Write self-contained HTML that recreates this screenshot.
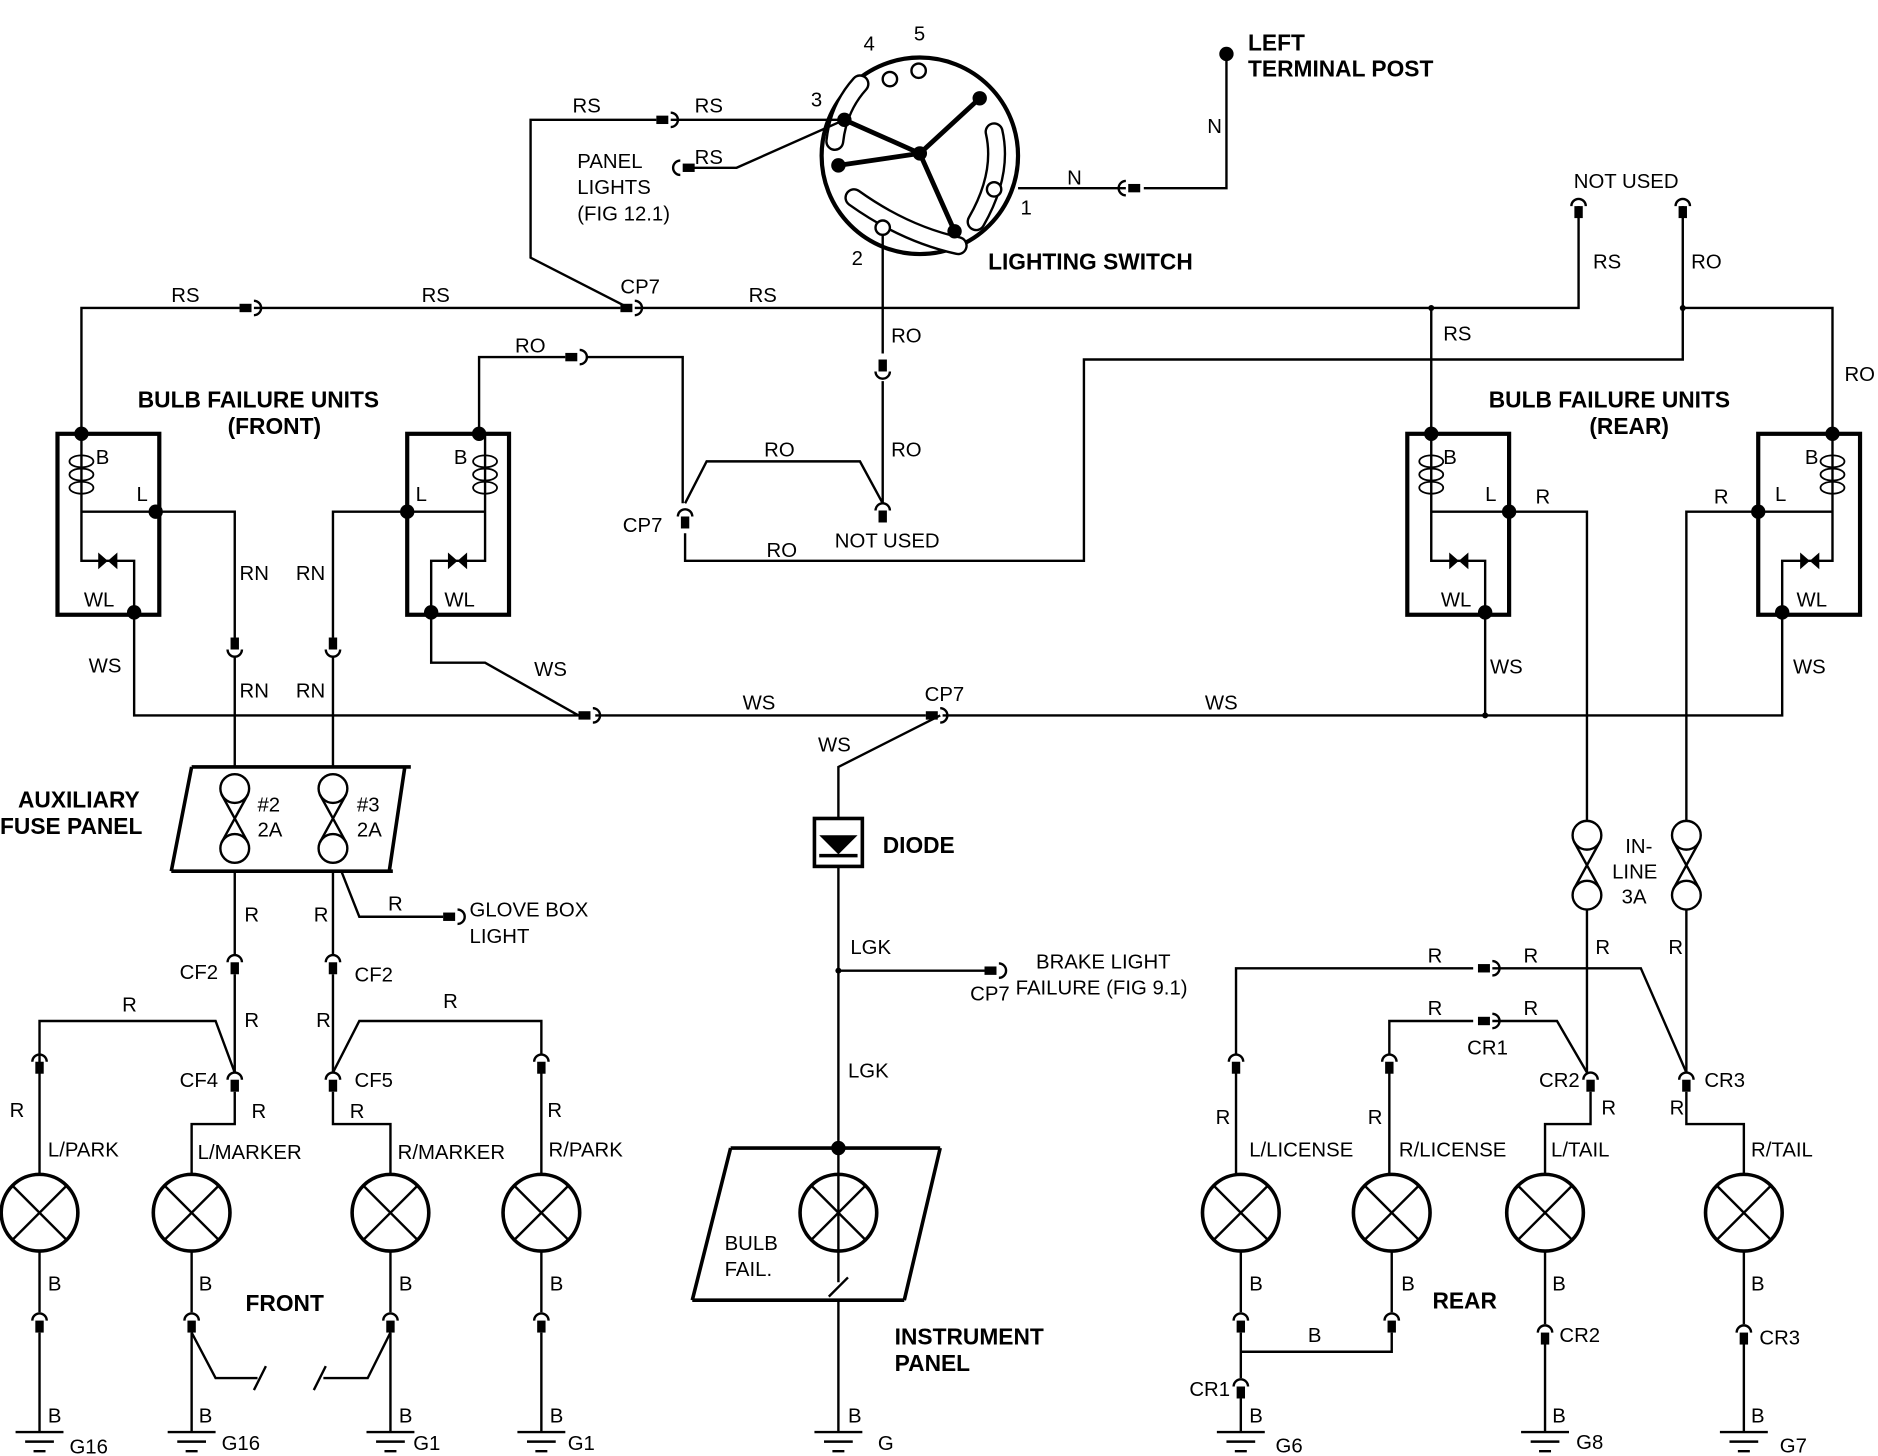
<!DOCTYPE html>
<html><head><meta charset="utf-8"><style>
html,body{margin:0;padding:0;background:#fff;}
svg{display:block;}
text{font-family:"Liberation Sans",sans-serif;font-size:17px;fill:#000;}
.b{font-weight:bold;font-size:19px;}
</style></head><body>
<svg width="1878" height="1456" viewBox="0 0 1568 1215" preserveAspectRatio="none" xmlns="http://www.w3.org/2000/svg">
<defs>
<g id="cv"><path d="M-6,6 A6,6 0 0 1 6,6" fill="none" stroke="#000" stroke-width="2"/><rect x="-3.5" y="6" width="7" height="10" fill="#000"/></g>
<g id="ch"><rect x="-12" y="-3.5" width="10" height="7" fill="#000"/><path d="M0,-6 A6,6 0 0 1 0,6" fill="none" stroke="#000" stroke-width="2"/></g>
<g id="chl"><path d="M0,-6 A6,6 0 0 0 0,6" fill="none" stroke="#000" stroke-width="2"/><rect x="2" y="-3.5" width="10" height="7" fill="#000"/></g>
<g id="lamp"><circle r="32" fill="none" stroke="#000" stroke-width="3"/><path d="M-22,-22L22,22M22,-22L-22,22" stroke="#000" stroke-width="2"/></g>
<g id="gnd"><path d="M-20,0H20M-12,8H12M-5,16H5" stroke="#000" stroke-width="2"/></g>
<g id="fuse"><circle cy="-25" r="12" fill="none" stroke="#000" stroke-width="2"/><circle cy="25" r="12" fill="none" stroke="#000" stroke-width="2"/><path d="M-11,-20L11,20M11,-20L-11,20" stroke="#000" stroke-width="2"/></g>
<g id="dot"><circle r="6" fill="#000"/></g>
</defs>
<g fill="none" stroke="#000" stroke-width="2">
<!-- switch -->
<circle cx="768" cy="130" r="82" stroke-width="3.5"/>
<g stroke-linecap="round">
<path d="M718,70 Q700,90 697,118" stroke-width="16"/>
<path d="M713,165 Q755,195 800,205" stroke-width="16"/>
<path d="M830,110 Q838,145 815,185" stroke-width="16"/>
<path d="M718,70 Q700,90 697,118" stroke="#fff" stroke-width="12"/>
<path d="M713,165 Q755,195 800,205" stroke="#fff" stroke-width="12"/>
<path d="M830,110 Q838,145 815,185" stroke="#fff" stroke-width="12"/>
</g>
<path d="M705,100L768,128L818,82M700,138L768,128L797,193" stroke-width="4"/>
<circle cx="743" cy="66" r="6"/><circle cx="767" cy="59" r="6"/><circle cx="830" cy="158" r="6" fill="#fff"/><circle cx="737" cy="190" r="6" fill="#fff"/>
<!-- N -->
<path d="M1024,45V157H955M940,157H850"/>
<!-- RS top -->
<path d="M705,100H560M548,100H443V215L525,257"/>
<path d="M573,140H615L705,100"/>
<path d="M68,362V257H200M212,257H518M530,257H1318V172"/>
<path d="M1195,257V362"/>
<!-- RO -->
<path d="M737,196V295M737,318V420"/>
<path d="M737,420L718,385H590L572,420"/>
<path d="M572,445V468H905V300H1405V172M1405,257H1530V362"/>
<path d="M400,362V298H472M490,298H570V420"/>
<!-- front units -->
<rect x="48" y="362" width="85" height="151" stroke-width="3.5"/>
<rect x="340" y="362" width="85" height="151" stroke-width="3.5"/>
<path d="M68,362V468H112V511M68,427H130"/>
<path d="M405,362V468H360V511M405,427H340"/>
<path d="M130,427H196V532M196,548V640"/>
<path d="M340,427H278V532M278,548V640"/>
<path d="M112,511V597H483M360,511V553H405L483,597M497,597H773M787,597H1488V511M1240,511V597"/>
<!-- rear units -->
<rect x="1175" y="362" width="85" height="151" stroke-width="3.5"/>
<rect x="1468" y="362" width="85" height="151" stroke-width="3.5"/>
<path d="M1195,362V468H1240V511M1195,427H1260"/>
<path d="M1530,362V468H1488V511M1530,427H1468"/>
<path d="M1260,427H1325V685M1325,759V895"/>
<path d="M1468,427H1408V685M1408,759V895"/>
<!-- diode -->
<path d="M785,597L700,640V683M700,722V1070M700,810H822"/>
<rect x="680" y="683" width="40" height="40" stroke-width="3"/>
<path d="M684,714H716" stroke-width="3"/>
<!-- instrument panel -->
<path d="M610,958H785M578,1085H755M610,958L578,1085M785,958L755,1085" stroke-width="3"/>
<path d="M692,1082L708,1066M700,1085V1195"/>
<!-- aux fuse panel -->
<path d="M160,640H343M143,727H328M160,640L143,727M338,640L325,727" stroke-width="3"/>
<path d="M196,727V797M196,813V895M278,727V797M278,813V895"/>
<path d="M285,727L300,765H370"/>
<!-- front lamps wiring -->
<path d="M33,887V852H180L196,895"/>
<path d="M196,911V938H160V980"/>
<path d="M278,911V938H326V980"/>
<path d="M278,895L300,852H452V880"/>
<path d="M33,895V980M452,895V980"/>
<path d="M33,1044V1095M33,1112V1195M160,1044V1095M160,1112V1195M326,1044V1095M326,1112V1195M452,1044V1095M452,1112V1195"/>
<path d="M160,1112L180,1150H215M212,1160L222,1140M262,1160L272,1140M270,1150H307L326,1112"/>
<!-- rear lamps wiring -->
<path d="M1032,880V808H1230M1246,808H1370L1408,895"/>
<path d="M1160,880V852H1230M1246,852H1300L1325,895"/>
<path d="M1032,895V980M1160,895V980"/>
<path d="M1328,911V938H1290V980M1408,911V938H1456V980"/>
<path d="M1036,1044V1095M1036,1112V1150M1036,1167V1195M1036,1128H1162V1112M1162,1095V1044"/>
<path d="M1290,1044V1105M1290,1122V1195M1456,1044V1105M1456,1122V1195"/>
</g>
<!-- dots -->
<use href="#dot" x="705" y="100"/><use href="#dot" x="768" y="128"/><use href="#dot" x="818" y="82"/><use href="#dot" x="700" y="138"/><use href="#dot" x="797" y="193"/>
<use href="#dot" x="1024" y="45"/>
<use href="#dot" x="68" y="362"/><use href="#dot" x="130" y="427"/><use href="#dot" x="112" y="511"/>
<use href="#dot" x="400" y="362"/><use href="#dot" x="340" y="427"/><use href="#dot" x="360" y="511"/>
<use href="#dot" x="1195" y="362"/><use href="#dot" x="1260" y="427"/><use href="#dot" x="1240" y="511"/>
<use href="#dot" x="1530" y="362"/><use href="#dot" x="1468" y="427"/><use href="#dot" x="1488" y="511"/>
<use href="#dot" x="700" y="958"/>
<circle cx="1195" cy="257" r="2.5"/><circle cx="1405" cy="257" r="2.5"/><circle cx="700" cy="810" r="2.5"/><circle cx="1240" cy="597" r="2.5"/>
<!-- coils -->
<g fill="none" stroke="#000" stroke-width="1.5">
<ellipse cx="68" cy="385" rx="10" ry="5"/><ellipse cx="68" cy="396" rx="10" ry="5"/><ellipse cx="68" cy="407" rx="10" ry="5"/>
<ellipse cx="405" cy="385" rx="10" ry="5"/><ellipse cx="405" cy="396" rx="10" ry="5"/><ellipse cx="405" cy="407" rx="10" ry="5"/>
<ellipse cx="1195" cy="385" rx="10" ry="5"/><ellipse cx="1195" cy="396" rx="10" ry="5"/><ellipse cx="1195" cy="407" rx="10" ry="5"/>
<ellipse cx="1530" cy="385" rx="10" ry="5"/><ellipse cx="1530" cy="396" rx="10" ry="5"/><ellipse cx="1530" cy="407" rx="10" ry="5"/>
</g>
<g fill="#000">
<path d="M82,461V475L90,468ZM98,461V475L90,468Z"/>
<path d="M374,461V475L382,468ZM390,461V475L382,468Z"/>
<path d="M1210,461V475L1218,468ZM1226,461V475L1218,468Z"/>
<path d="M1503,461V475L1511,468ZM1519,461V475L1511,468Z"/>
<path d="M684,697H716L700,713Z"/>
</g>
<!-- connectors -->
<use href="#ch" x="560" y="100"/><use href="#chl" x="568" y="140"/>
<use href="#chl" x="940" y="157"/>
<use href="#ch" x="212" y="257"/><use href="#ch" x="530" y="257"/>
<use href="#ch" x="484" y="298"/>
<use href="#cv" x="1318" y="166"/><use href="#cv" x="1405" y="166"/>
<use href="#cv" x="737" y="294" transform="rotate(180 737 305)"/>
<use href="#cv" x="737" y="420"/><use href="#cv" x="572" y="425"/>
<use href="#cv" x="196" y="532" transform="rotate(180 196 540)"/><use href="#cv" x="278" y="532" transform="rotate(180 278 540)"/>
<use href="#ch" x="495" y="597"/><use href="#ch" x="785" y="597"/>
<use href="#chl" x="822" y="810" transform="rotate(180 828 810)"/>
<use href="#chl" x="370" y="765" transform="rotate(180 376 765)"/>
<use href="#cv" x="196" y="797"/><use href="#cv" x="278" y="797"/>
<use href="#cv" x="196" y="895"/><use href="#cv" x="278" y="895"/>
<use href="#cv" x="33" y="880"/><use href="#cv" x="452" y="880"/>
<use href="#cv" x="33" y="1096"/><use href="#cv" x="160" y="1096"/><use href="#cv" x="326" y="1096"/><use href="#cv" x="452" y="1096"/>
<use href="#ch" x="1246" y="808"/><use href="#ch" x="1246" y="852"/>
<use href="#cv" x="1032" y="880"/><use href="#cv" x="1160" y="880"/>
<use href="#cv" x="1328" y="895"/><use href="#cv" x="1408" y="895"/>
<use href="#cv" x="1036" y="1096"/><use href="#cv" x="1162" y="1096"/>
<use href="#cv" x="1036" y="1151"/>
<use href="#cv" x="1290" y="1106"/><use href="#cv" x="1456" y="1106"/>
<!-- fuses -->
<use href="#fuse" x="196" y="683"/><use href="#fuse" x="278" y="683"/>
<use href="#fuse" x="1325" y="722"/><use href="#fuse" x="1408" y="722"/>
<!-- lamps -->
<use href="#lamp" x="33" y="1012"/><use href="#lamp" x="160" y="1012"/><use href="#lamp" x="326" y="1012"/><use href="#lamp" x="452" y="1012"/>
<use href="#lamp" x="700" y="1012"/>
<use href="#lamp" x="1036" y="1012"/><use href="#lamp" x="1162" y="1012"/><use href="#lamp" x="1290" y="1012"/><use href="#lamp" x="1456" y="1012"/>
<!-- grounds -->
<use href="#gnd" x="33" y="1195"/><use href="#gnd" x="160" y="1195"/><use href="#gnd" x="326" y="1195"/><use href="#gnd" x="452" y="1195"/>
<use href="#gnd" x="700" y="1195"/><use href="#gnd" x="1036" y="1195"/><use href="#gnd" x="1290" y="1195"/><use href="#gnd" x="1456" y="1195"/>
<!-- labels -->
<text x="721" y="42">4</text><text x="763" y="34">5</text><text x="677" y="89">3</text><text x="711" y="221">2</text><text x="852" y="179">1</text>
<text class="b" x="825" y="225">LIGHTING SWITCH</text>
<text class="b" x="1042" y="42">LEFT</text><text class="b" x="1042" y="64">TERMINAL POST</text>
<text x="1008" y="111">N</text><text x="891" y="154">N</text>
<text x="478" y="94">RS</text><text x="580" y="94">RS</text><text x="580" y="137">RS</text>
<text x="482" y="140">PANEL</text><text x="482" y="162">LIGHTS</text><text x="482" y="184">(FIG 12.1)</text>
<text x="143" y="252">RS</text><text x="352" y="252">RS</text><text x="518" y="245">CP7</text><text x="625" y="252">RS</text>
<text x="1314" y="157">NOT USED</text><text x="1330" y="224">RS</text><text x="1412" y="224">RO</text><text x="1205" y="284">RS</text><text x="1540" y="318">RO</text>
<text x="744" y="286">RO</text><text x="744" y="381">RO</text><text x="638" y="381">RO</text><text x="430" y="294">RO</text>
<text x="520" y="444">CP7</text><text x="640" y="465">RO</text><text x="697" y="457">NOT USED</text>
<text class="b" x="115" y="340">BULB FAILURE UNITS</text><text class="b" x="190" y="362">(FRONT)</text>
<text class="b" x="1243" y="340">BULB FAILURE UNITS</text><text class="b" x="1327" y="362">(REAR)</text>
<text x="80" y="387">B</text><text x="114" y="418">L</text><text x="70" y="506">WL</text>
<text x="379" y="387">B</text><text x="347" y="418">L</text><text x="371" y="506">WL</text>
<text x="1205" y="387">B</text><text x="1240" y="418">L</text><text x="1203" y="506">WL</text>
<text x="1507" y="387">B</text><text x="1482" y="418">L</text><text x="1500" y="506">WL</text>
<text x="1282" y="420">R</text><text x="1431" y="420">R</text>
<text x="200" y="484">RN</text><text x="247" y="484">RN</text><text x="200" y="582">RN</text><text x="247" y="582">RN</text>
<text x="74" y="561">WS</text><text x="446" y="564">WS</text><text x="620" y="592">WS</text><text x="1006" y="592">WS</text>
<text x="1244" y="562">WS</text><text x="1497" y="562">WS</text>
<text x="772" y="585">CP7</text><text x="683" y="627">WS</text>
<text class="b" x="737" y="712">DIODE</text>
<text class="b" x="15" y="674">AUXILIARY</text><text class="b" x="0" y="696">FUSE PANEL</text>
<text x="215" y="677">#2</text><text x="215" y="698">2A</text><text x="298" y="677">#3</text><text x="298" y="698">2A</text>
<text x="1357" y="712">IN-</text><text x="1346" y="733">LINE</text><text x="1354" y="754">3A</text>
<text x="1332" y="796">R</text><text x="1393" y="796">R</text>
<text x="204" y="769">R</text><text x="262" y="769">R</text><text x="324" y="760">R</text>
<text x="392" y="765">GLOVE BOX</text><text x="392" y="787">LIGHT</text>
<text x="710" y="796">LGK</text><text x="708" y="899">LGK</text>
<text x="865" y="808">BRAKE LIGHT</text><text x="810" y="835">CP7</text><text x="848" y="830">FAILURE (FIG 9.1)</text>
<text x="150" y="817">CF2</text><text x="296" y="819">CF2</text>
<text x="102" y="844">R</text><text x="204" y="857">R</text><text x="264" y="857">R</text><text x="370" y="841">R</text>
<text x="150" y="907">CF4</text><text x="296" y="907">CF5</text>
<text x="8" y="932">R</text><text x="210" y="933">R</text><text x="292" y="933">R</text><text x="457" y="932">R</text>
<text x="40" y="965">L/PARK</text><text x="165" y="967">L/MARKER</text><text x="332" y="967">R/MARKER</text><text x="458" y="965">R/PARK</text>
<text x="40" y="1077">B</text><text x="166" y="1077">B</text><text x="333" y="1077">B</text><text x="459" y="1077">B</text>
<text class="b" x="205" y="1094">FRONT</text>
<text x="40" y="1187">B</text><text x="166" y="1187">B</text><text x="333" y="1187">B</text><text x="459" y="1187">B</text>
<text x="58" y="1213">G16</text><text x="185" y="1210">G16</text><text x="345" y="1210">G1</text><text x="474" y="1210">G1</text>
<text x="605" y="1043">BULB</text><text x="605" y="1065">FAIL.</text>
<text class="b" x="747" y="1122">INSTRUMENT</text><text class="b" x="747" y="1144">PANEL</text>
<text x="708" y="1187">B</text><text x="733" y="1210">G</text>
<text x="1192" y="803">R</text><text x="1272" y="803">R</text><text x="1192" y="847">R</text><text x="1272" y="847">R</text>
<text x="1225" y="880">CR1</text><text x="1285" y="907">CR2</text><text x="1423" y="907">CR3</text>
<text x="1337" y="930">R</text><text x="1394" y="930">R</text><text x="1015" y="938">R</text><text x="1142" y="938">R</text>
<text x="1043" y="965">L/LICENSE</text><text x="1168" y="965">R/LICENSE</text><text x="1295" y="965">L/TAIL</text><text x="1462" y="965">R/TAIL</text>
<text x="1043" y="1077">B</text><text x="1170" y="1077">B</text><text x="1296" y="1077">B</text><text x="1462" y="1077">B</text>
<text class="b" x="1196" y="1092">REAR</text><text x="1092" y="1120">B</text>
<text x="1302" y="1120">CR2</text><text x="1469" y="1122">CR3</text><text x="993" y="1165">CR1</text>
<text x="1043" y="1187">B</text><text x="1296" y="1187">B</text><text x="1462" y="1187">B</text>
<text x="1065" y="1212">G6</text><text x="1316" y="1209">G8</text><text x="1486" y="1212">G7</text>
</svg>
</body></html>
